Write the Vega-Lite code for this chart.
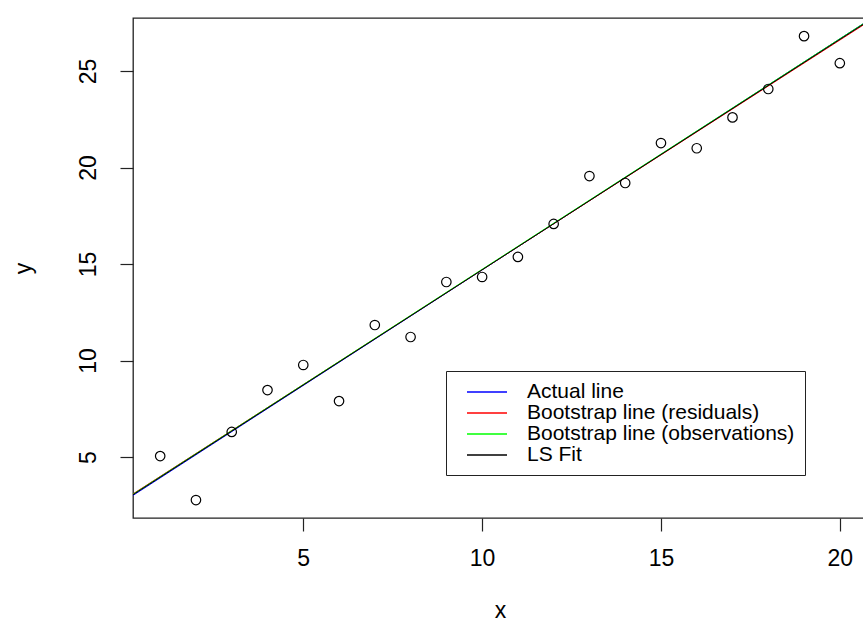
{
  "$schema": "https://vega.github.io/schema/vega-lite/v6.json",
  "width": 734,
  "height": 500,
  "autosize": {"type": "none"},
  "padding": {"left": 133, "top": 18, "right": 0, "bottom": 105},
  "background": "white",
  "config": {
    "view": {"stroke": "#222222", "strokeWidth": 1.3},
    "font": "Liberation Sans",
    "axis": {
      "grid": false,
      "domain": false,
      "tickColor": "#222222",
      "tickWidth": 1.2,
      "tickSize": 13,
      "labelFont": "Liberation Sans",
      "labelFontSize": 23,
      "labelColor": "black",
      "titleFont": "Liberation Sans",
      "titleFontSize": 23,
      "titleFontWeight": "normal",
      "titleColor": "black"
    }
  },
  "datasets": {
    "points": [
      {"x": 1, "y": 5.05}, {"x": 2, "y": 2.77}, {"x": 3, "y": 6.3}, {"x": 4, "y": 8.47},
      {"x": 5, "y": 9.77}, {"x": 6, "y": 7.9}, {"x": 7, "y": 11.84}, {"x": 8, "y": 11.22},
      {"x": 9, "y": 14.07}, {"x": 10, "y": 14.33}, {"x": 11, "y": 15.37}, {"x": 12, "y": 17.08},
      {"x": 13, "y": 19.56}, {"x": 14, "y": 19.2}, {"x": 15, "y": 21.27}, {"x": 16, "y": 21.0},
      {"x": 17, "y": 22.6}, {"x": 18, "y": 24.07}, {"x": 19, "y": 26.81}, {"x": 20, "y": 25.41}
    ],
    "lines": [
      {"series": "Actual line", "x": 0.24, "y": 3.01},
      {"series": "Actual line", "x": 20.76, "y": 27.58},
      {"series": "Bootstrap line (residuals)", "x": 0.24, "y": 3.09},
      {"series": "Bootstrap line (residuals)", "x": 20.76, "y": 27.51},
      {"series": "Bootstrap line (observations)", "x": 0.24, "y": 3.07},
      {"series": "Bootstrap line (observations)", "x": 20.76, "y": 27.58},
      {"series": "LS Fit", "x": 0.24, "y": 3.047},
      {"series": "LS Fit", "x": 20.76, "y": 27.547}
    ]
  },
  "layer": [
    {
      "data": {"name": "lines"},
      "mark": {"type": "line", "strokeWidth": 1, "clip": true},
      "encoding": {
        "x": {
          "field": "x", "type": "quantitative",
          "scale": {"domain": [0.24, 20.76], "nice": false, "zero": false},
          "axis": {
            "values": [5, 10, 15, 20],
            "labelBaseline": "alphabetic",
            "labelPadding": 34,
            "title": "x",
            "titleBaseline": "alphabetic",
            "titleY": 99
          }
        },
        "y": {
          "field": "y", "type": "quantitative",
          "scale": {"domain": [1.84, 27.75], "nice": false, "zero": false},
          "axis": {
            "values": [5, 10, 15, 20, 25],
            "labelAngle": -90,
            "labelAlign": "center",
            "labelBaseline": "alphabetic",
            "labelPadding": 25,
            "title": "y",
            "titleAngle": -90,
            "titleAlign": "center",
            "titleBaseline": "alphabetic",
            "titleX": -103,
            "titleY": 250
          }
        },
        "color": {
          "field": "series", "type": "nominal",
          "scale": {
            "domain": ["Actual line", "Bootstrap line (residuals)", "Bootstrap line (observations)", "LS Fit"],
            "range": ["#0000FF", "#FF0000", "#00FF00", "#000000"]
          },
          "legend": {
            "title": null,
            "orient": "none",
            "legendX": 313,
            "legendY": 353,
            "strokeColor": "#222222",
            "fillColor": "white",
            "padding": 10,
            "symbolType": "M-2,0H2",
            "symbolSize": 400,
            "symbolStrokeWidth": 1.3,
            "symbolOffset": 20,
            "labelFont": "Liberation Sans",
            "labelFontSize": 21,
            "labelColor": "black",
            "labelOffset": 29,
            "labelLimit": 500,
            "rowPadding": -0.5
          }
        }
      }
    },
    {
      "data": {"name": "points"},
      "mark": {"type": "point", "shape": "circle", "filled": false, "size": 90, "stroke": "black", "strokeWidth": 1.2, "opacity": 1},
      "encoding": {
        "x": {"field": "x", "type": "quantitative"},
        "y": {"field": "y", "type": "quantitative"}
      }
    }
  ]
}
